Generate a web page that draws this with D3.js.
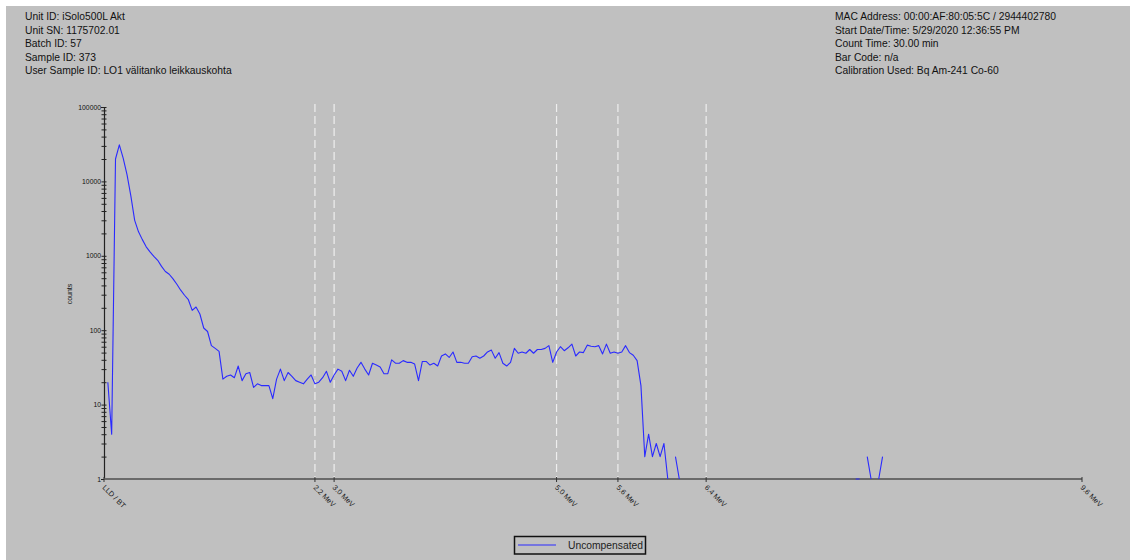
<!DOCTYPE html>
<html>
<head>
<meta charset="utf-8">
<script src="https://cdn.jsdelivr.net/npm/d3@7"></script>
<style>
  html, body { margin: 0; padding: 0; background: #ffffff; }
  svg { display: block; }
  text { font-family: "Liberation Sans", Arial, sans-serif; }
</style>
</head>
<body>
<svg id="chart" width="1136" height="560"></svg>
<script>
// ---------------- data ----------------
const headerLeft = [
  "Unit ID: iSolo500L Akt",
  "Unit SN: 1175702.01",
  "Batch ID: 57",
  "Sample ID: 373",
  "User Sample ID: LO1 välitanko leikkauskohta"
];
const headerRight = [
  "MAC Address: 00:00:AF:80:05:5C / 2944402780",
  "Start Date/Time: 5/29/2020 12:36:55 PM",
  "Count Time: 30.00 min",
  "Bar Code: n/a",
  "Calibration Used: Bq Am-241 Co-60"
];
const seriesName = "Uncompensated";
const yLabel = "counts";
// energy markers: channel position and label
const markerChannels = [0, 55, 60, 118, 134, 157, 255];
const markerLabels = ["LLD / BT", "2.2 MeV", "3.0 MeV", "5.0 MeV", "5.6 MeV", "6.4 MeV", "9.6 MeV"];
const dashedMarkers = [55, 60, 118, 134, 157];
const yTickMajor = [1, 10, 100, 1000, 10000, 100000];
// counts for channels 1..255
const counts = [
  20, 4, 20000, 31000, 20500, 12300, 6400, 3000, 2100, 1650,
  1320, 1130, 980, 870, 720, 615, 565, 490, 415, 345,
  295, 257, 185, 205, 165, 107, 96, 62, 57, 52,
  22, 24, 25, 23, 33, 21, 26, 27, 17, 19,
  18, 18, 18, 12, 22, 30, 21, 27, 24, 21,
  20, 19, 22, 25, 19, 20, 23, 28, 20, 25,
  30, 28, 21, 29, 24, 31, 37, 30, 25, 36,
  34, 32, 26, 26, 40, 36, 36, 39, 37, 37,
  35, 21, 38, 38, 34, 36, 33, 45, 48, 43,
  51, 37, 37, 36, 36, 44, 45, 42, 45, 51,
  54, 42, 50, 36, 33, 37, 57, 49, 51, 49,
  55, 49, 55, 55, 57, 62, 37, 51, 60, 53,
  58, 65, 45, 51, 50, 63, 61, 60, 62, 48,
  65, 49, 51, 49, 51, 62, 50, 46, 39, 18,
  2, 4, 2, 3, 2, 3, 1, 0, 2, 1,
  0, 0, 0, 0, 0, 0, 0, 0, 0, 0,
  0, 0, 0, 0, 0, 0, 0, 0, 0, 0,
  0, 0, 0, 0, 0, 0, 0, 0, 0, 0,
  0, 0, 0, 0, 0, 0, 0, 0, 0, 0,
  0, 0, 0, 0, 0, 1, 1, 0, 2, 1,
  0, 1, 2, 0, 0, 0, 0, 0, 0, 0,
  0, 0, 0, 0, 0, 0, 0, 0, 0, 0,
  0, 0, 0, 0, 0, 0, 0, 0, 0, 0,
  0, 0, 0, 0, 0, 0, 0, 0, 0, 0,
  0, 0, 0, 0, 0, 0, 0, 0, 0, 0,
  0, 0, 0, 0, 0
];

// ---------------- layout ----------------
const W = 1136, H = 560;
const svg = d3.select("#chart");

svg.append("rect").attr("x", 0).attr("y", 0).attr("width", W).attr("height", H).attr("fill", "#ffffff");
svg.append("rect").attr("x", 6).attr("y", 6).attr("width", W - 12).attr("height", H - 6).attr("fill", "#c0c0c0");

const x = d3.scaleLinear().domain([0, 255]).range([104, 1082]);
const y = d3.scaleLog().domain([1, 100000]).range([479, 107]);

// header text
const hdrFont = 10.3, hdrStep = 13.5, hdrTop = 20;
svg.append("g").selectAll("text").data(headerLeft).join("text")
  .attr("x", 25).attr("y", (d, i) => hdrTop + i * hdrStep)
  .attr("font-size", hdrFont).attr("fill", "#111").text(d => d);
svg.append("g").selectAll("text").data(headerRight).join("text")
  .attr("x", 835).attr("y", (d, i) => hdrTop + i * hdrStep)
  .attr("font-size", hdrFont).attr("fill", "#111").text(d => d);

// dashed energy marker lines
svg.append("g").selectAll("line").data(dashedMarkers).join("line")
  .attr("x1", d => x(d)).attr("x2", d => x(d))
  .attr("y1", 104).attr("y2", 479)
  .attr("stroke", "#eeeeee").attr("stroke-width", 1.2)
  .attr("stroke-dasharray", "8,4");

// y axis (log)
const yTicks = [];
yTickMajor.forEach(p => {
  if (p < 100000) { for (let m = 1; m <= 9; m++) yTicks.push(p * m); }
  else yTicks.push(p);
});
const yAxis = d3.axisLeft(y)
  .tickValues(yTicks)
  .tickSizeOuter(0)
  .tickSize(3)
  .tickFormat(d => yTickMajor.includes(d) ? String(d) : "");
const gy = svg.append("g").attr("transform", "translate(104,0)").call(yAxis);
gy.select(".domain").attr("stroke", "#222").attr("stroke-width", 1.2);
gy.selectAll(".tick line").attr("stroke", "#222").attr("x1", 2.5).attr("x2", -2.5);
gy.selectAll(".tick text").attr("x", -3).attr("font-size", 6.8)
  .attr("font-family", "Liberation Sans, Arial, sans-serif").attr("fill", "#111");

svg.append("text")
  .attr("transform", "translate(72,294) rotate(-90)")
  .attr("text-anchor", "middle").attr("font-size", 7).attr("fill", "#111")
  .text(yLabel);

// x axis
svg.append("line")
  .attr("x1", x(0)).attr("x2", x(255)).attr("y1", 479).attr("y2", 479)
  .attr("stroke", "#6a6a6a").attr("stroke-width", 2);
const gx = svg.append("g");
gx.selectAll("line").data(markerChannels).join("line")
  .attr("x1", d => x(d)).attr("x2", d => x(d))
  .attr("y1", 477).attr("y2", 482)
  .attr("stroke", "#333").attr("stroke-width", 1);
gx.selectAll("text").data(markerChannels).join("text")
  .attr("transform", d => `translate(${x(d) - 2},488) rotate(45)`)
  .attr("font-size", 7.4).attr("fill", "#222")
  .text((d, i) => markerLabels[i]);

// spectrum line
const pts = counts.map((v, i) => ({ ch: i + 1, v: v }));
const line = d3.line()
  .defined(d => d.v > 0)
  .x(d => x(d.ch))
  .y(d => y(d.v));
svg.append("path").datum(pts)
  .attr("d", line)
  .attr("fill", "none")
  .attr("stroke", "#2a2aff")
  .attr("stroke-width", 1.1)
  .attr("stroke-linejoin", "round");

// legend
const lg = svg.append("g");
lg.append("rect").attr("x", 514.5).attr("y", 536.5).attr("width", 131).attr("height", 17.5)
  .attr("fill", "none").attr("stroke", "#111").attr("stroke-width", 1.5);
lg.append("line").attr("x1", 518).attr("x2", 556).attr("y1", 545).attr("y2", 545)
  .attr("stroke", "#2a2aff").attr("stroke-width", 1.1);
lg.append("text").attr("x", 568).attr("y", 549).attr("font-size", 10.3).attr("fill", "#222")
  .text(seriesName);
</script>
</body>
</html>
